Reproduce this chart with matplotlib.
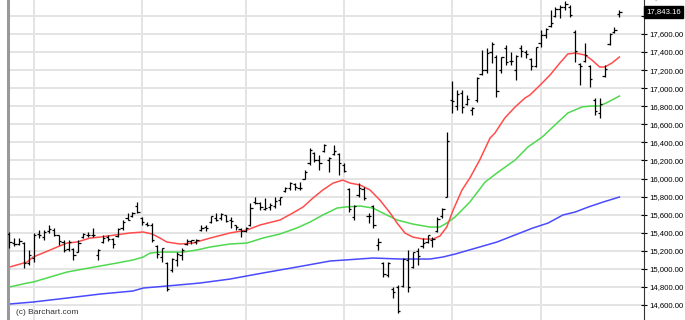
import numpy as np
import matplotlib
matplotlib.use("Agg")
import matplotlib.pyplot as plt

plt.rcParams['font.family'] = ['Liberation Sans', 'DejaVu Sans']

# daily OHLC bars, one per trading day (late Jun .. late Dec)
highs = [15410, 15340, 15340, 15300, 15210, 15400, 15430, 15430, 15490, 15450,
         15380, 15320, 15320, 15230, 15320, 15400, 15410, 15450, 15220, 15380,
         15370, 15340, 15450, 15540, 15620, 15630, 15740, 15570, 15520, 15510,
         15260, 15230, 15080, 15120, 15190, 15230, 15330, 15320, 15330, 15480,
         15480, 15590, 15620, 15620, 15600, 15570, 15490, 15450, 15460, 15730,
         15800, 15740, 15780, 15730, 15790, 15800, 15910, 15960, 15950, 15960,
         16090, 16340, 16290, 16260, 16380, 16240, 16370, 16280, 16170, 15900,
         15710, 15950, 15910, 15620, 15710, 15340, 15080, 15080, 14800, 14820,
         15120, 15210, 15190, 15230, 15340, 15370, 15350, 15570, 15670, 16520,
         17080, 16980, 16980, 16920, 16790, 17120, 17420, 17450, 17510, 17370,
         17350, 17480, 17400, 17370, 17480, 17420, 17330, 17460, 17640, 17670,
         17865, 17900, 17920, 17970, 17920, 17640, 17280, 17500, 17255, 16890,
         16890, 17260, 17610, 17680, 17865]
lows = [15230, 15250, 15260, 15010, 15040, 15080, 15340, 15320, 15400, 15360,
        15260, 15190, 15200, 15100, 15190, 15340, 15350, 15350, 15100, 15290,
        15310, 15230, 15350, 15430, 15540, 15570, 15620, 15490, 15470, 15300,
        15120, 15080, 14760, 14970, 15030, 15100, 15260, 15280, 15280, 15420,
        15420, 15510, 15530, 15540, 15520, 15450, 15430, 15350, 15410, 15470,
        15720, 15650, 15650, 15650, 15670, 15710, 15850, 15870, 15870, 15870,
        16000, 16150, 16180, 16090, 16290, 16070, 16260, 16040, 16070, 15630,
        15540, 15800, 15760, 15510, 15450, 15210, 14910, 14910, 14680, 14510,
        14800, 14740, 15010, 15040, 15230, 15290, 15240, 15410, 15560, 15790,
        16720, 16760, 16730, 16810, 16700, 16850, 17150, 17170, 17280, 16900,
        17170, 17260, 17260, 17090, 17340, 17330, 17200, 17230, 17460, 17555,
        17680, 17790, 17780, 17865, 17790, 17290, 17035, 17290, 17010, 16700,
        16670, 17120, 17480, 17610, 17790]
opens = [15390, 15290, 15280, 15290, 15060, 15120, 15390, 15350, 15420, 15430,
         15370, 15300, 15220, 15220, 15190, 15350, 15380, 15380, 15150, 15300,
         15350, 15330, 15360, 15450, 15560, 15580, 15700, 15560, 15500, 15490,
         15250, 15130, 15060, 14990, 15100, 15150, 15280, 15310, 15300, 15430,
         15460, 15520, 15560, 15560, 15600, 15540, 15480, 15440, 15420, 15480,
         15740, 15730, 15660, 15690, 15700, 15760, 15860, 15900, 15940, 15900,
         16000, 16170, 16280, 16200, 16300, 16200, 16270, 16270, 16150, 15880,
         15570, 15820, 15880, 15580, 15700, 15260, 15070, 14930, 14780, 14800,
         14810, 15100, 15020, 15200, 15250, 15300, 15320, 15420, 15580, 15800,
         16870, 16800, 16950, 16820, 16760, 16870, 17160, 17200, 17400, 17350,
         17200, 17450, 17300, 17200, 17440, 17400, 17320, 17250, 17500, 17590,
         17690, 17800, 17880, 17900, 17900, 17620, 17270, 17300, 17240, 16870,
         16730, 17130, 17490, 17620, 17820]
closes = [15300, 15270, 15310, 15060, 15150, 15380, 15370, 15410, 15440, 15380,
          15310, 15210, 15300, 15150, 15290, 15390, 15370, 15370, 15210, 15340,
          15330, 15280, 15440, 15520, 15540, 15620, 15630, 15520, 15480, 15320,
          15160, 15230, 14780, 15110, 15160, 15210, 15310, 15320, 15320, 15450,
          15450, 15590, 15540, 15610, 15530, 15530, 15460, 15420, 15450, 15670,
          15730, 15680, 15670, 15710, 15750, 15790, 15900, 15950, 15910, 15890,
          16070, 16320, 16210, 16170, 16370, 16230, 16310, 16170, 16080, 15660,
          15700, 15890, 15780, 15590, 15480, 15300, 14940, 15070, 14740, 14530,
          15110, 14800, 15190, 15140, 15290, 15370, 15330, 15550, 15660, 16410,
          16860, 16940, 16790, 16880, 16780, 17110, 17200, 17390, 17490, 16970,
          17340, 17290, 17300, 17360, 17410, 17380, 17250, 17460, 17590, 17660,
          17720, 17880, 17900, 17930, 17810, 17410, 17250, 17370, 17100, 16750,
          16820, 17210, 17600, 17640, 17843.16]

# moving averages (bar index, price)
ma_fast_x = [0, 3.6, 4.8, 8.3, 9.7, 11.7, 13.7, 16.4, 18.4, 21.5, 24.5, 27.2, 29.0,
             30.6, 32.0, 34.7, 37.3, 40.8, 44.8, 48.3, 50.9, 55.0, 57.6, 59.7, 61.7,
             63.7, 65.8, 67.8, 69.2, 71.3, 73.3, 75.3, 77.4, 78.8, 80.4, 82.0, 84.1,
             86.1, 87.5, 88.9, 90.2, 92.0, 93.6, 95.6, 97.7, 98.7, 100.7, 102.8,
             104.8, 105.8, 107.9, 109.9, 111.9, 113.5, 115.0, 117.0, 118.4, 120.0,
             121.0, 122.5, 124.0]
ma_fast = [15020, 15076, 15131, 15209, 15242, 15286, 15297, 15341, 15352, 15375,
           15397, 15408, 15386, 15341, 15297, 15275, 15286, 15341, 15397, 15430,
           15485, 15541, 15618, 15685, 15784, 15873, 15950, 15983, 15950, 15928,
           15873, 15762, 15618, 15507, 15397, 15352, 15330, 15330, 15363, 15463,
           15651, 15873, 16006, 16205, 16448, 16504, 16670, 16792, 16891, 16924,
           17035, 17146, 17279, 17378, 17389, 17367, 17312, 17234, 17234, 17279,
           17345]
ma_mid_x = [0, 3.6, 4.8, 8.3, 11.7, 15.0, 18.4, 21.9, 25.1, 27.2, 28.6, 30.6, 32.6,
            35.3, 38.1, 40.8, 44.8, 48.3, 51.5, 55.0, 58.4, 61.1, 63.7, 66.6, 68.2,
            71.3, 73.9, 75.9, 78.8, 82.0, 85.5, 87.5, 88.9, 90.6, 93.6, 96.7, 99.1,
            102.8, 105.4, 108.3, 110.9, 113.5, 116.4, 118.4, 120.0, 121.7, 124.0]
ma_mid = [14799, 14843, 14854, 14910, 14965, 14998, 15031, 15065, 15098, 15131,
          15175, 15186, 15186, 15186, 15209, 15242, 15275, 15286, 15341, 15386,
          15452, 15518, 15596, 15673, 15684, 15696, 15673, 15618, 15541, 15496,
          15463, 15463, 15507, 15574, 15740, 15961, 16061, 16205, 16349, 16459,
          16592, 16725, 16792, 16803, 16803, 16847, 16913]
ma_slow_x = [0, 4.8, 11.7, 18.4, 25.1, 27.2, 32.0, 38.7, 44.8, 51.5, 58.4, 65.2,
             68.2, 73.9, 79.4, 85.5, 88.1, 90.6, 95.6, 99.1, 103.8, 106.4, 109.5,
             112.5, 115.0, 117.7, 120.7, 124.0]
ma_slow = [14611, 14633, 14677, 14721, 14755, 14788, 14810, 14843, 14887, 14954,
           15020, 15087, 15098, 15120, 15109, 15109, 15131, 15164, 15242, 15297,
           15397, 15452, 15507, 15596, 15629, 15685, 15740, 15795]

month_starts = [5, 27, 48, 68, 90, 108]
price_ticks = list(range(14600, 17801, 200))
last_price = 17843.16

fig = plt.figure(figsize=(6.85, 3.2), dpi=100)
ax = fig.add_axes([8 / 685, 0, 636 / 685, 1])

idx = np.arange(len(closes))
ax.vlines(idx, lows, highs, color='black', lw=0.9, zorder=3)
ax.hlines(opens, idx - 0.45, idx, color='black', lw=0.9, zorder=3)
ax.hlines(closes, idx, idx + 0.45, color='black', lw=0.9, zorder=3)

ax.plot(ma_slow_x, ma_slow, color='#4a4aff', lw=1.1, zorder=2)
ax.plot(ma_mid_x, ma_mid, color='#4fd94f', lw=1.1, zorder=2)
ax.plot(ma_fast_x, ma_fast, color='#ff4d4d', lw=1.1, zorder=2)

ax.set_xlim(-0.3, 129)
ax.set_ylim(14434, 17976)
ax.set_xticks(month_starts)
ax.set_yticks(price_ticks)
# the 17,800 label sits under the last-price box
ax.set_yticklabels(["" if abs(v - last_price) < 100 else f"{v:,.2f}" for v in price_ticks])
ax.yaxis.tick_right()
ax.tick_params(axis='y', direction='inout', length=5, width=0.8, pad=1,
               labelsize=5.6, colors='black')
ax.tick_params(axis='x', length=0, labelbottom=False)
ax.grid(True, color='#e4e4e4', lw=1.4)
ax.set_axisbelow(True)

for s in ['top', 'bottom']:
    ax.spines[s].set_visible(False)
ax.spines['left'].set_color('#999999')
ax.spines['left'].set_linewidth(2.2)
ax.spines['right'].set_color('#333333')
ax.spines['right'].set_linewidth(0.8)

# partly cut-off top label
ax.text(1.0, 18000, " 18,000.00", transform=ax.get_yaxis_transform(),
        ha='left', va='center', fontsize=5.6, clip_on=False)
# last price box
ax.text(1.004, last_price, f"{last_price:,.2f}", transform=ax.get_yaxis_transform(),
        ha='left', va='center', fontsize=5.6, color='white', clip_on=False,
        bbox=dict(facecolor='black', edgecolor='black', pad=1.5), zorder=5)

ax.text(0.012, 0.022, "(c) Barchart.com", transform=ax.transAxes, fontsize=6,
        color='#333333', ha='left', va='center')

fig.savefig('out.png', dpi=100)
